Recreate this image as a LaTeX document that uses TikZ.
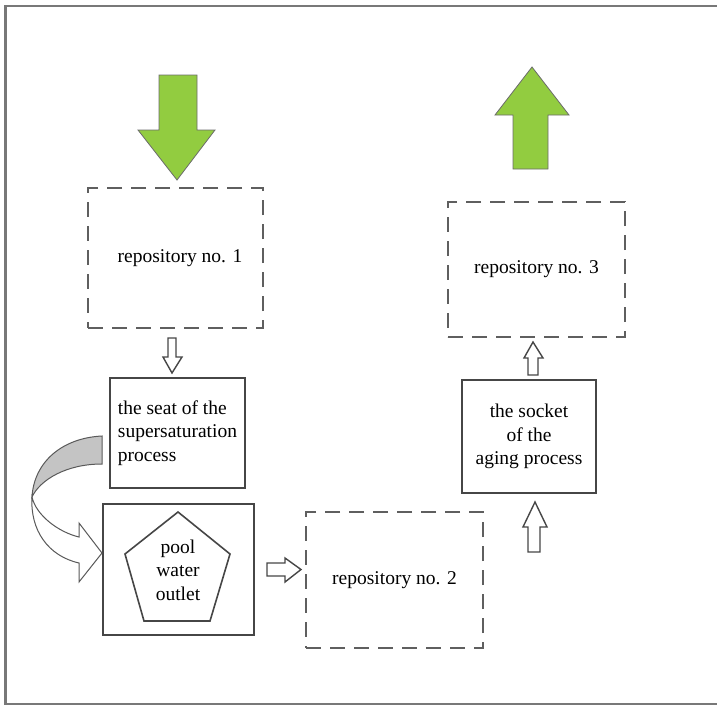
\documentclass[tikz,border=0pt]{standalone}
\usepackage{fontspec}
\setmainfont{Liberation Serif}
\usetikzlibrary{calc}
\definecolor{lgreen}{RGB}{146,204,64}
\definecolor{edge}{RGB}{70,70,70}
\definecolor{dashc}{RGB}{95,95,95}
\definecolor{frame}{RGB}{120,120,120}
\definecolor{ribbon}{RGB}{196,196,196}
\tikzset{
  txt/.style={font=\fontsize{19.5}{23.5}\selectfont, text=black},
  solidbox/.style={draw=edge, line width=1.8pt, rectangle, txt, align=center, inner sep=0pt},
  dashbox/.style={draw=dashc, line width=2.2pt, dash pattern=on 15pt off 9pt, rectangle, txt, inner sep=0pt},
  greenarrow/.style={fill=lgreen, draw=edge!80, line width=0.8pt, line join=miter},
  hollowarrow/.style={fill=white, draw=edge, line width=1.4pt, line join=miter},
}
\begin{document}
\begin{tikzpicture}[x=1pt, y=-1pt]
\useasboundingbox (0,0) rectangle (717,707);
% outer frame
\draw[frame, line width=2.4pt] (717,6) -- (5.5,6) -- (5.5,704) -- (717,704);

% boxes
\node[dashbox, minimum width=175pt, minimum height=140pt] (repo1) at (175.5,258) {\hspace*{9pt}repository no. 1};
\node[dashbox, minimum width=177pt, minimum height=135pt] (repo3) at (536.5,269.5) {repository no. 3};
\node[dashbox, minimum width=177pt, minimum height=136pt] (repo2) at (394.5,580) {repository no. 2};
\node[solidbox, align=left, minimum width=135pt, minimum height=110pt] (seat) at (177.5,433) {the seat of the\\supersaturation\\process};
\node[solidbox, minimum width=134pt, minimum height=113pt] (socket) at (529,436.5) {the socket\\of the\\aging process};
\node[solidbox, minimum width=151pt, minimum height=131pt] (poolbox) at (178.5,569.5) {};
\draw[edge, line width=1.6pt, line join=miter] (178,512) -- (230,554) -- (210,621) -- (144,621) -- (125,554) -- cycle;
\node[txt, align=center, inner sep=0pt] (pool) at (178,570) {pool\\water\\outlet};

% green arrows
\draw[greenarrow] (159,75) -- (197,75) -- (197,130) -- (215,130) -- (177,180) -- (138,130) -- (159,130) -- cycle;
\draw[greenarrow] (513,169) -- (548,169) -- (548,115) -- (569,115) -- (532,67) -- (495,115) -- (513,115) -- cycle;

% small hollow arrows
\draw[hollowarrow] (168,338) -- (176,338) -- (176,357) -- (182,357) -- (172,373) -- (163,357) -- (168,357) -- cycle;
\draw[hollowarrow] (528,375) -- (538,375) -- (538,358) -- (543,358) -- (533,342) -- (524,358) -- (528,358) -- cycle;
\draw[hollowarrow] (528,552) -- (540,552) -- (540,527) -- (547,527) -- (535,502) -- (523,527) -- (528,527) -- cycle;
\draw[hollowarrow] (267,563) -- (285,563) -- (285,558) -- (301,569.5) -- (285,582) -- (285,576) -- (267,576) -- cycle;

% curved arrow from seat to pool box
\draw[fill=ribbon, draw=edge!90, line width=1pt]
  (102,436) .. controls (62,438) and (34,462) .. (32,497)
  .. controls (40,480) and (66,464) .. (102,464) -- cycle;
\draw[fill=white, draw=edge!90, line width=1pt, line join=miter]
  (32,497) .. controls (36,515) and (58,532) .. (79,537)
  -- (79,523) -- (102,553) -- (79,582) -- (79,563)
  .. controls (48,556) and (30,530) .. (32,497) -- cycle;
\end{tikzpicture}
\end{document}
